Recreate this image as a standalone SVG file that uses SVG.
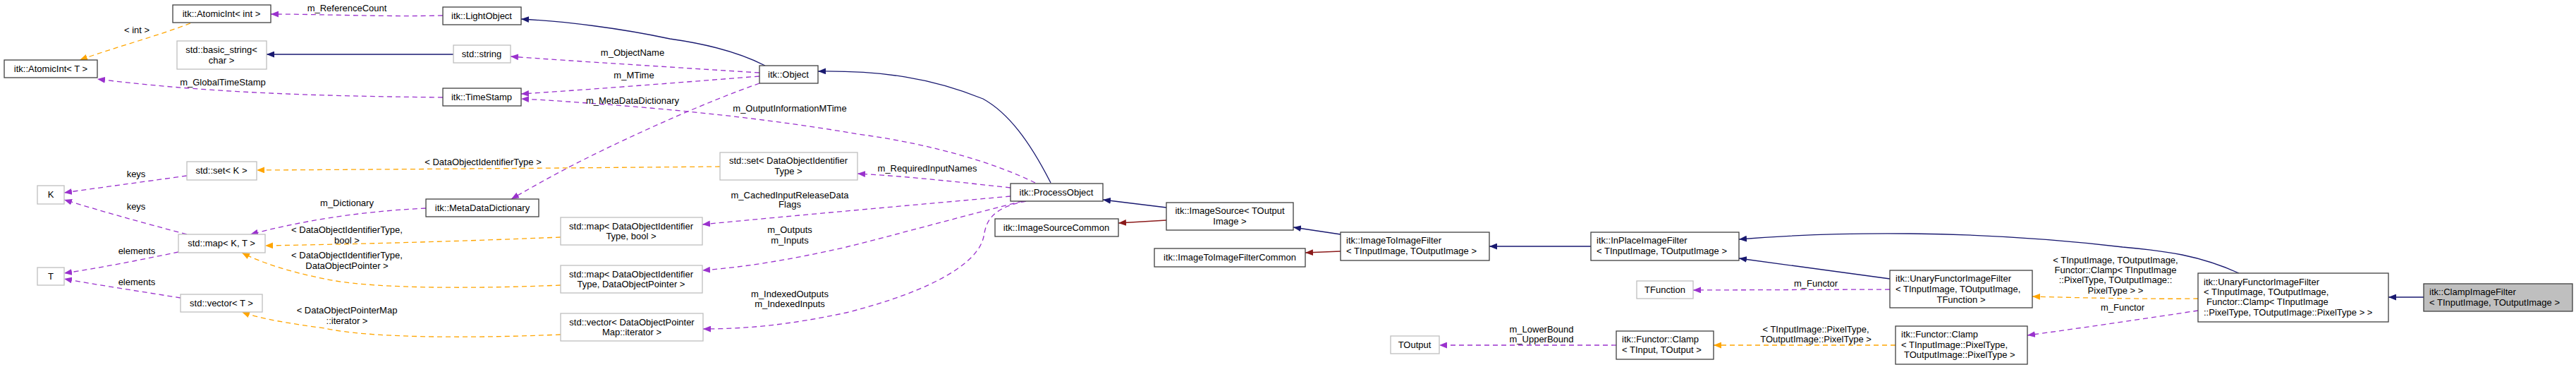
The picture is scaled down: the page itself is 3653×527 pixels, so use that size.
<svg xmlns="http://www.w3.org/2000/svg" width="3653" height="527" viewBox="0 0 3653 527">
<style>
text{font-family:"Liberation Sans",Arial,sans-serif;font-size:13px;fill:#000}
.m{text-anchor:middle}
.n rect{fill:#fff;stroke:#404040;stroke-width:1.3}
.g rect{fill:#fff;stroke:#bfbfbf;stroke-width:1.3}
.e path{fill:none;stroke-width:1.3}
.b{stroke:#191970}
.r{stroke:#8b1a1a}
.p{stroke:#9a32cd;stroke-dasharray:7,5}
.o{stroke:#ffa500;stroke-dasharray:7,5}
</style>
<defs>
<marker id="ab" viewBox="0 0 10 8" refX="10" refY="4" markerWidth="11" markerHeight="9" markerUnits="userSpaceOnUse" orient="auto"><path d="M0,0L10,4L0,8z" fill="#191970"/></marker>
<marker id="ar" viewBox="0 0 10 8" refX="10" refY="4" markerWidth="11" markerHeight="9" markerUnits="userSpaceOnUse" orient="auto"><path d="M0,0L10,4L0,8z" fill="#8b1a1a"/></marker>
<marker id="ap" viewBox="0 0 10 8" refX="10" refY="4" markerWidth="11" markerHeight="9" markerUnits="userSpaceOnUse" orient="auto"><path d="M0,0L10,4L0,8z" fill="#9a32cd"/></marker>
<marker id="ao" viewBox="0 0 10 8" refX="10" refY="4" markerWidth="11" markerHeight="9" markerUnits="userSpaceOnUse" orient="auto"><path d="M0,0L10,4L0,8z" fill="#ffa500"/></marker>
</defs>
<g id="edges" class="e">
<path class="o" marker-end="url(#ao)" d="M270,33 C220,52 160,68 113,85"/>
<path class="p" marker-end="url(#ap)" d="M628,22 C540,24 460,20 384,20"/>
<path class="b" marker-end="url(#ab)" d="M643,77 L378,77"/>
<path class="p" marker-end="url(#ap)" d="M628,138 C450,136 300,132 138,112"/>
<path class="b" marker-end="url(#ab)" d="M1085,93 C1050,75 1000,62 950,55 C880,40 800,30 739,27"/>
<path class="p" marker-end="url(#ap)" d="M1077,103 C950,95 820,87 724,80"/>
<path class="p" marker-end="url(#ap)" d="M1077,108 C950,118 820,128 739,133"/>
<path class="p" marker-end="url(#ap)" d="M1468,259 C1420,235 1330,205 1217,190 C1100,170 980,157 860,148 C820,145 780,142 739,140"/>
<path class="p" marker-end="url(#ap)" d="M1077,118 C1000,145 900,190 830,225 C790,245 760,262 725,282"/>
<path class="b" marker-end="url(#ab)" d="M1490,259 C1460,200 1430,160 1394,140 C1320,110 1250,100 1160,101"/>
<path class="p" marker-end="url(#ap)" d="M1433,266 C1360,258 1290,250 1216,246"/>
<path class="p" marker-end="url(#ap)" d="M1433,278 C1300,290 1130,305 996,318"/>
<path class="p" marker-end="url(#ap)" d="M1450,285 C1370,305 1280,330 1200,350 C1120,368 1060,378 996,383"/>
<path class="p" marker-end="url(#ap)" d="M1455,285 C1400,295 1398,320 1395,335 C1388,370 1330,410 1200,443 C1120,460 1060,466 997,466"/>
<path class="b" marker-end="url(#ab)" d="M1654,294 L1564,283"/>
<path class="r" marker-end="url(#ar)" d="M1654,312 L1586,316"/>
<path class="b" marker-end="url(#ab)" d="M1901,332 L1834,322"/>
<path class="r" marker-end="url(#ar)" d="M1901,356 L1851,358"/>
<path class="b" marker-end="url(#ab)" d="M2256,349 L2112,349"/>
<path class="b" marker-end="url(#ab)" d="M3175,387 C3120,362 3070,355 3010,350 C2800,325 2600,328 2466,339"/>
<path class="b" marker-end="url(#ab)" d="M2680,395 L2466,366"/>
<path class="b" marker-end="url(#ab)" d="M3437,421 L3387,421"/>
<path class="p" marker-end="url(#ap)" d="M2680,410 L2401,411"/>
<path class="o" marker-end="url(#ao)" d="M3117,423 C3050,424 2950,422 2882,420"/>
<path class="p" marker-end="url(#ap)" d="M3117,440 C3050,450 2950,465 2875,475"/>
<path class="o" marker-end="url(#ao)" d="M2688,489 L2430,489"/>
<path class="p" marker-end="url(#ap)" d="M2292,489 L2041,489"/>
<path class="o" marker-end="url(#ao)" d="M1021,236 C800,238 560,240 364,241"/>
<path class="p" marker-end="url(#ap)" d="M265,249 C200,258 140,266 91,273"/>
<path class="p" marker-end="url(#ap)" d="M265,332 C200,315 140,298 91,283"/>
<path class="p" marker-end="url(#ap)" d="M253,357 C200,368 140,380 91,387"/>
<path class="p" marker-end="url(#ap)" d="M256,422 C200,413 140,404 91,395"/>
<path class="p" marker-end="url(#ap)" d="M604,295 C500,300 420,315 355,332"/>
<path class="o" marker-end="url(#ao)" d="M795,336 C650,342 500,346 376,348"/>
<path class="o" marker-end="url(#ao)" d="M795,404 C650,410 520,408 460,395 C410,385 370,372 343,358"/>
<path class="o" marker-end="url(#ao)" d="M795,474 C650,480 520,478 460,465 C410,458 370,452 343,442"/>
</g>
<g id="edge-labels">
<text class="m" x="194" y="47">&lt; int &gt;</text>
<text class="m" x="492" y="16">m_ReferenceCount</text>
<text class="m" x="316" y="121">m_GlobalTimeStamp</text>
<text class="m" x="897" y="79">m_ObjectName</text>
<text class="m" x="899" y="111">m_MTime</text>
<text class="m" x="897" y="147">m_MetaDataDictionary</text>
<text class="m" x="1120" y="158">m_OutputInformationMTime</text>
<text class="m" x="1315" y="243">m_RequiredInputNames</text>
<text class="m" x="685" y="234">&lt; DataObjectIdentifierType &gt;</text>
<text class="m" x="193" y="251">keys</text>
<text class="m" x="193" y="297">keys</text>
<text class="m" x="492" y="292">m_Dictionary</text>
<text class="m" x="194" y="360">elements</text>
<text class="m" x="194" y="404">elements</text>
<text class="m" x="492" y="330">&lt; DataObjectIdentifierType,</text>
<text class="m" x="492" y="345">bool &gt;</text>
<text class="m" x="492" y="366">&lt; DataObjectIdentifierType,</text>
<text class="m" x="492" y="381">DataObjectPointer &gt;</text>
<text class="m" x="492" y="444">&lt; DataObjectPointerMap</text>
<text class="m" x="492" y="459">::iterator &gt;</text>
<text class="m" x="1120" y="281">m_CachedInputReleaseData</text>
<text class="m" x="1120" y="294">Flags</text>
<text class="m" x="1120" y="330">m_Outputs</text>
<text class="m" x="1120" y="345">m_Inputs</text>
<text class="m" x="1120" y="421">m_IndexedOutputs</text>
<text class="m" x="1120" y="435">m_IndexedInputs</text>
<text class="m" x="2186" y="471">m_LowerBound</text>
<text class="m" x="2186" y="485">m_UpperBound</text>
<text class="m" x="2575" y="406">m_Functor</text>
<text class="m" x="2575" y="471">&lt; TInputImage::PixelType,</text>
<text class="m" x="2575" y="485">TOutputImage::PixelType &gt;</text>
<text class="m" x="3000" y="373">&lt; TInputImage, TOutputImage,</text>
<text class="m" x="3000" y="387">Functor::Clamp&lt; TInputImage</text>
<text class="m" x="3000" y="401">::PixelType, TOutputImage::</text>
<text class="m" x="3000" y="416">PixelType &gt; &gt;</text>
<text class="m" x="3010" y="440">m_Functor</text>
</g>
<g id="n_atomicint_int" class="n"><rect x="245" y="7" width="139" height="25"/><text class="m" x="314" y="24">itk::AtomicInt&lt; int &gt;</text></g>
<g id="n_basic_string" class="g"><rect x="251" y="58" width="127" height="40"/><text class="m" x="314" y="75">std::basic_string&lt;</text><text class="m" x="314" y="90">char &gt;</text></g>
<g id="n_atomicint_t" class="n"><rect x="6" y="85" width="132" height="25"/><text class="m" x="72" y="102">itk::AtomicInt&lt; T &gt;</text></g>
<g id="n_set_k" class="g"><rect x="265" y="229" width="99" height="26"/><text class="m" x="314" y="246">std::set&lt; K &gt;</text></g>
<g id="n_k" class="g"><rect x="53" y="263" width="38" height="26"/><text class="m" x="72" y="280">K</text></g>
<g id="n_map_kt" class="g"><rect x="253" y="332" width="123" height="26"/><text class="m" x="314" y="349">std::map&lt; K, T &gt;</text></g>
<g id="n_t" class="g"><rect x="53" y="379" width="38" height="25"/><text class="m" x="72" y="396">T</text></g>
<g id="n_vector_t" class="g"><rect x="256" y="417" width="116" height="25"/><text class="m" x="314" y="434">std::vector&lt; T &gt;</text></g>
<g id="n_lightobject" class="n"><rect x="628" y="10" width="111" height="25"/><text class="m" x="683" y="27">itk::LightObject</text></g>
<g id="n_string" class="g"><rect x="643" y="64" width="81" height="25"/><text class="m" x="683" y="81">std::string</text></g>
<g id="n_object" class="n"><rect x="1077" y="93" width="83" height="25"/><text class="m" x="1118" y="110">itk::Object</text></g>
<g id="n_timestamp" class="n"><rect x="628" y="125" width="111" height="25"/><text class="m" x="683" y="142">itk::TimeStamp</text></g>
<g id="n_set_doit" class="g"><rect x="1021" y="216" width="195" height="39"/><text class="m" x="1118" y="232">std::set&lt; DataObjectIdentifier</text><text class="m" x="1118" y="247">Type &gt;</text></g>
<g id="n_mdd" class="n"><rect x="604" y="282" width="160" height="25"/><text class="m" x="684" y="299">itk::MetaDataDictionary</text></g>
<g id="n_map_bool" class="g"><rect x="795" y="308" width="201" height="39"/><text class="m" x="895" y="325">std::map&lt; DataObjectIdentifier</text><text class="m" x="895" y="339">Type, bool &gt;</text></g>
<g id="n_map_dop" class="g"><rect x="795" y="376" width="201" height="39"/><text class="m" x="895" y="393">std::map&lt; DataObjectIdentifier</text><text class="m" x="895" y="407">Type, DataObjectPointer &gt;</text></g>
<g id="n_vector_dopm" class="g"><rect x="795" y="444" width="202" height="39"/><text class="m" x="896" y="461">std::vector&lt; DataObjectPointer</text><text class="m" x="896" y="475">Map::iterator &gt;</text></g>
<g id="n_processobject" class="n"><rect x="1433" y="260" width="131" height="25"/><text class="m" x="1498" y="277">itk::ProcessObject</text></g>
<g id="n_imagesourcecommon" class="n"><rect x="1411" y="310" width="175" height="25"/><text class="m" x="1498" y="327">itk::ImageSourceCommon</text></g>
<g id="n_imagesource" class="n"><rect x="1654" y="287" width="180" height="39"/><text class="m" x="1744" y="303">itk::ImageSource&lt; TOutput</text><text class="m" x="1744" y="318">Image &gt;</text></g>
<g id="n_i2icommon" class="n"><rect x="1637" y="352" width="214" height="26"/><text class="m" x="1744" y="369">itk::ImageToImageFilterCommon</text></g>
<g id="n_i2i" class="n"><rect x="1901" y="329" width="211" height="40"/><text x="1909" y="345">itk::ImageToImageFilter</text><text x="1909" y="360">&lt; TInputImage, TOutputImage &gt;</text></g>
<g id="n_inplace" class="n"><rect x="2256" y="329" width="210" height="40"/><text x="2264" y="345">itk::InPlaceImageFilter</text><text x="2264" y="360">&lt; TInputImage, TOutputImage &gt;</text></g>
<g id="n_tfunction" class="g"><rect x="2321" y="398" width="80" height="25"/><text class="m" x="2361" y="415">TFunction</text></g>
<g id="n_toutput" class="g"><rect x="1972" y="476" width="69" height="25"/><text class="m" x="2006" y="493">TOutput</text></g>
<g id="n_clamp_tio" class="n"><rect x="2292" y="469" width="138" height="40"/><text x="2300" y="485">itk::Functor::Clamp</text><text x="2300" y="500">&lt; TInput, TOutput &gt;</text></g>
<g id="n_ufif_tf" class="n"><rect x="2680" y="383" width="202" height="53"/><text x="2688" y="399">itk::UnaryFunctorImageFilter</text><text x="2688" y="414">&lt; TInputImage, TOutputImage,</text><text class="m" x="2781" y="429">TFunction &gt;</text></g>
<g id="n_clamp_px" class="n"><rect x="2688" y="462" width="187" height="54"/><text x="2696" y="478">itk::Functor::Clamp</text><text x="2696" y="493">&lt; TInputImage::PixelType,</text><text x="2700" y="507">TOutputImage::PixelType &gt;</text></g>
<g id="n_ufif_clamp" class="n"><rect x="3117" y="387" width="270" height="69"/><text x="3125" y="404">itk::UnaryFunctorImageFilter</text><text x="3125" y="418">&lt; TInputImage, TOutputImage,</text><text x="3129" y="432">Functor::Clamp&lt; TInputImage</text><text x="3125" y="447">::PixelType, TOutputImage::PixelType &gt; &gt;</text></g>
<g id="n_clampimagefilter" class="n"><rect x="3437" y="402" width="211" height="39" style="fill:#bfbfbf"/><text x="3445" y="418">itk::ClampImageFilter</text><text x="3445" y="433">&lt; TInputImage, TOutputImage &gt;</text></g>
</svg>
